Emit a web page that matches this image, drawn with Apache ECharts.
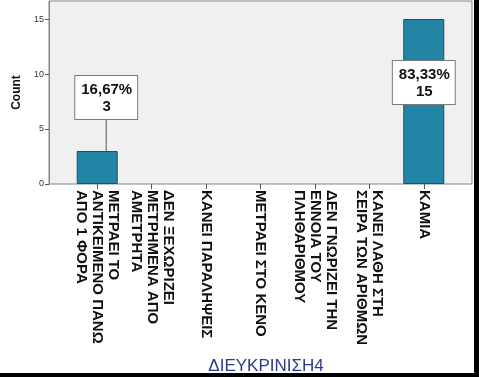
<!DOCTYPE html>
<html>
<head>
<meta charset="utf-8">
<script src="https://cdn.jsdelivr.net/npm/echarts@6/dist/echarts.min.js"></script>
<style>
html,body{margin:0;padding:0;background:#fff;}
#c{width:479px;height:377px;}
</style>
</head>
<body>
<div id="c"></div>
<script>
const categories = [
  "ΜΕΤΡΑΕΙ ΤΟ\nΑΝΤΙΚΕΙΜΕΝΟ ΠΑΝΩ\nΑΠΟ 1 ΦΟΡΑ",
  "ΔΕΝ ΞΕΧΩΡΙΖΕΙ\nΜΕΤΡΗΜΕΝΑ ΑΠΟ\nΑΜΕΤΡΗΤΑ",
  "ΚΑΝΕΙ ΠΑΡΑΛΗΨΕΙΣ",
  "ΜΕΤΡΑΕΙ ΣΤΟ ΚΕΝΟ",
  "ΔΕΝ ΓΝΩΡΙΖΕΙ ΤΗΝ\nΕΝΝΟΙΑ ΤΟΥ\nΠΛΗΘΑΡΙΘΜΟΥ",
  "ΚΑΝΕΙ ΛΑΘΗ ΣΤΗ\nΣΕΙΡΑ ΤΩΝ ΑΡΙΘΜΩΝ",
  "ΚΑΜΙΑ"
];
const counts = [3, 0, 0, 0, 0, 0, 15];
const yTicks = [0, 5, 10, 15];
const axisTitle = "ΔΙΕΥΚΡΙΝΙΣΗ4";
const yName = "Count";

const total = counts.reduce((a, b) => a + b, 0);
const fmtPct = v => (v / total * 100).toFixed(2).replace('.', ',') + '%';

const labelBase = {
  show: true,
  formatter: p => fmtPct(p.value) + '\n' + p.value,
  backgroundColor: '#ffffff',
  borderColor: '#7a7a7a',
  borderWidth: 1,
  padding: [5, 5, 4, 6],
  fontFamily: 'Liberation Sans, Arial, sans-serif',
  fontSize: 15,
  fontWeight: 'bold',
  lineHeight: 17,
  color: '#111',
  align: 'center'
};

const data = counts.map((v, i) => {
  if (v === 0) return { value: v, label: { show: false }, itemStyle: { borderWidth: 0, opacity: 0 } };
  if (i === 0) {
    return { value: v, label: Object.assign({}, labelBase, { position: 'top', distance: 0 }), labelLine: { show: true } };
  }
  return { value: v, label: Object.assign({}, labelBase, { position: 'insideTop', distance: 42, offset: [-5, 0] }), labelLine: { show: false } };
});

const chart = echarts.init(document.getElementById('c'), null, { renderer: 'canvas' });
const yMax = 16.64;
chart.setOption({
  animation: false,
  backgroundColor: '#ffffff',
  title: {
    text: axisTitle,
    left: 261, top: 353,
    textAlign: 'center',
    textStyle: { fontFamily: 'Liberation Sans, Arial, sans-serif', fontSize: 17, fontWeight: 'normal', color: '#2b3a8f' }
  },
  grid: [
    { left: 49, right: 7, top: 1, bottom: 193, show: true, backgroundColor: '#f0f0f0', borderColor: '#858585', borderWidth: 1 },
    { left: 70, right: 28, top: 1, bottom: 193 }
  ],
  xAxis: [
    { type: 'value', gridIndex: 0, show: false, min: 0, max: 1 },
    {
      type: 'category', gridIndex: 1, data: categories,
      axisLine: { show: false },
      axisTick: { show: true, alignWithLabel: true, length: 5, lineStyle: { color: '#555' } },
      axisLabel: {
        rotate: -90, interval: 0, margin: 6,
        fontFamily: 'Liberation Sans, Arial, sans-serif', fontSize: 15, fontWeight: 'bold',
        lineHeight: 16, color: '#111'
      }
    }
  ],
  yAxis: [
    {
      type: 'value', gridIndex: 0, min: 0, max: yMax, interval: 5,
      name: yName, nameLocation: 'middle', nameGap: 20,
      nameTextStyle: { fontFamily: 'Liberation Sans, Arial, sans-serif', fontSize: 12, fontWeight: 'bold', color: '#111' },
      axisLine: { show: true, lineStyle: { color: '#858585' } },
      axisTick: { show: true, length: 4, lineStyle: { color: '#555' } },
      splitLine: { show: false },
      axisLabel: {
        margin: 5, fontFamily: 'Liberation Sans, Arial, sans-serif', fontSize: 9, color: '#333',
        showMaxLabel: false,
        formatter: v => (yTicks.indexOf(v) >= 0 ? String(v) : '')
      }
    },
    { type: 'value', gridIndex: 1, min: 0, max: yMax, show: false }
  ],
  series: [{
    type: 'bar',
    xAxisIndex: 1, yAxisIndex: 1,
    data: data,
    barWidth: 41,
    itemStyle: { color: '#2385a6', borderColor: '#1b4f61', borderWidth: 1 },
    labelLine: { show: true, lineStyle: { color: '#555', width: 1 } },
    labelLayout: function (p) {
      if (p.dataIndex === 0) return { dx: 9, dy: -32 };
      return {};
    }
  }],
  graphic: [
    { type: 'rect', shape: { x: 474, y: 0, width: 5, height: 377 }, style: { fill: '#000' }, silent: true },
    { type: 'rect', shape: { x: 0, y: 373, width: 479, height: 4 }, style: { fill: '#000' }, silent: true }
  ]
});
</script>
</body>
</html>
